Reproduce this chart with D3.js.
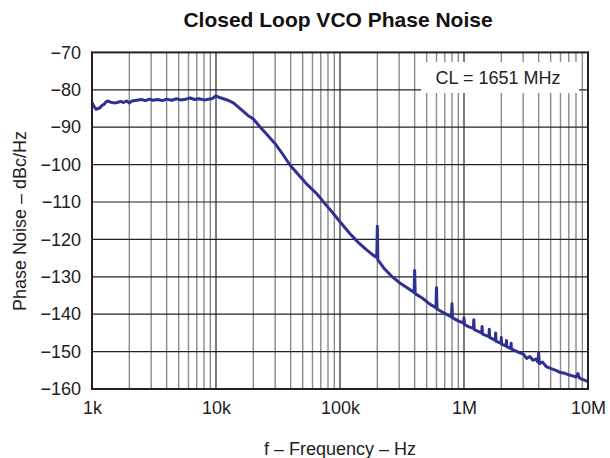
<!DOCTYPE html>
<html>
<head>
<meta charset="utf-8">
<script src="https://cdn.jsdelivr.net/npm/d3@7"></script>
<style>
  html, body { margin: 0; padding: 0; background: #fff; }
  svg { display: block; font-family: 'Liberation Sans', Arial, sans-serif; }
</style>
</head>
<body>
<div id="chart"></div>
<script>
// ── DONNÉES ─────────────────────────────────────────────────────────────
const freqHz = [
  1000, 1040, 1080, 1120, 1160, 1200, 1250, 1300, 1350, 1400, 1500, 1600, 1700, 1800, 1900,
  2000, 2100, 2300, 2500, 2700, 2900, 3100, 3400, 3700, 4000, 4400, 4800, 5200, 5700, 6200,
  6700, 7300, 8000, 8700, 9400, 10000, 10500, 11500, 12500, 13800, 15000, 16600, 18000, 20000,
  22600, 25000, 30000, 35000, 39500, 47600, 55000, 65000, 75000, 88000, 100000, 120000, 140000,
  164000, 185000, 198000, 200000, 202000, 230000, 260000, 300000, 350000, 396000, 400000, 404000,
  466000, 530000, 594000, 600000, 606000, 700000, 792000, 800000, 808000, 900000, 990000,
  1000000, 1010000, 1100000, 1190000, 1200000, 1210000, 1300000, 1390000, 1400000, 1410000,
  1590000, 1600000, 1610000, 1790000, 1800000, 1810000, 1990000, 2000000, 2010000, 2190000,
  2200000, 2210000, 2390000, 2400000, 2410000, 2600000, 2800000, 3000000, 3200000, 3400000,
  3600000, 3800000, 3950000, 4000000, 4050000, 4300000, 4600000, 5000000, 5500000, 6000000,
  6500000, 7000000, 7500000, 8000000, 8300000, 8500000, 9000000, 9500000, 10000000
];
const noiseDbc = [
  -83.4, -84.5, -85.2, -85.0, -84.8, -84.2, -83.9, -83.2, -83.0, -83.3, -83.5, -83.4, -83.1, -83.4, -83.0,
  -83.5, -83.0, -82.8, -82.6, -82.9, -82.5, -82.8, -82.6, -82.9, -82.5, -82.8, -82.4, -82.7, -82.5, -82.2,
  -82.6, -82.4, -82.7, -82.5, -82.3, -81.6, -82.0, -82.4, -82.8, -83.5, -84.5, -85.8, -86.8, -87.8,
  -89.9, -91.5, -94.4, -97.5, -100.1, -103.2, -105.5, -107.8, -110.3, -113.0, -115.3, -118.4, -120.8,
  -122.8, -124.2, -124.8, -116.5, -125.5, -128.0, -129.8, -131.5, -133.0, -134.2, -128.3, -134.5,
  -135.8, -137.3, -138.3, -132.9, -138.6, -139.8, -140.7, -137.2, -141.0, -141.8, -142.4,
  -141.1, -142.8, -143.4, -143.8, -141.5, -144.1, -144.6, -145.0, -143.3, -145.3,
  -146.0, -144.0, -146.2, -147.0, -145.0, -147.2, -147.8, -146.2, -148.0, -148.5,
  -147.0, -148.7, -149.2, -147.8, -149.3, -149.8, -150.3, -150.6, -151.8, -151.3,
  -152.3, -152.0, -152.8, -150.2, -153.2, -152.8, -154.0, -154.5, -155.0, -155.6,
  -155.8, -156.2, -156.5, -156.8, -155.9, -157.0, -157.4, -157.7, -158.0
];
const xTicks = [1e3, 1e4, 1e5, 1e6, 1e7];
const xTickLabels = ['1k', '10k', '100k', '1M', '10M'];
const yTicks = [-70, -80, -90, -100, -110, -120, -130, -140, -150, -160];

// ── GRAPHIQUE ───────────────────────────────────────────────────────────
const W = 610, H = 458;
const M = { left: 92, right: 22, top: 52.4, bottom: 69 };

const svg = d3.select('#chart').append('svg').attr('width', W).attr('height', H);

const x = d3.scaleLog().domain([1e3, 1e7]).range([M.left, W - M.right]);
const y = d3.scaleLinear().domain([-160, -70]).range([H - M.bottom, M.top]);

// Grille verticale : mineures grises, décades noires
const minor = [];
for (let d = 1e3; d < 1e7; d *= 10) for (let k = 2; k <= 9; k++) minor.push(d * k);

svg.append('g').selectAll('line').data(minor).enter().append('line')
  .attr('x1', d => x(d)).attr('x2', d => x(d))
  .attr('y1', y(-70)).attr('y2', y(-160))
  .attr('stroke', '#8a8a8a').attr('stroke-width', 1.4);

svg.append('g').selectAll('line').data(xTicks.slice(1, -1)).enter().append('line')
  .attr('x1', d => x(d)).attr('x2', d => x(d))
  .attr('y1', y(-70)).attr('y2', y(-160))
  .attr('stroke', '#222').attr('stroke-width', 1.2);

svg.append('g').selectAll('line').data(yTicks.slice(1, -1)).enter().append('line')
  .attr('x1', x(1e3)).attr('x2', x(1e7))
  .attr('y1', d => y(d)).attr('y2', d => y(d))
  .attr('stroke', '#222').attr('stroke-width', 1.2);

// Cartouche
svg.append('rect').attr('x', 421).attr('y', 62).attr('width', 158).attr('height', 31).attr('fill', '#fff');
svg.append('text').attr('x', 498).attr('y', 84).attr('text-anchor', 'middle')
  .attr('font-size', '18px').attr('fill', '#222').text('CL = 1651 MHz');

// Courbe
const pts = freqHz.map((f, i) => [f, noiseDbc[i]]);
svg.append('path').datum(pts)
  .attr('d', d3.line().x(d => x(d[0])).y(d => y(d[1])))
  .attr('fill', 'none').attr('stroke', '#2e3192').attr('stroke-width', 3)
  .attr('stroke-linejoin', 'round');

// Cadre
svg.append('rect').attr('x', x(1e3)).attr('y', y(-70))
  .attr('width', x(1e7) - x(1e3)).attr('height', y(-160) - y(-70))
  .attr('fill', 'none').attr('stroke', '#222').attr('stroke-width', 2);

// Axes
const yAxis = svg.append('g').attr('transform', `translate(${M.left},0)`)
  .call(d3.axisLeft(y).tickValues(yTicks).tickSize(0).tickPadding(11));
yAxis.select('.domain').remove();
yAxis.selectAll('text').attr('font-size', '18px').attr('fill', '#222')
  .attr('font-family', 'Liberation Sans, Arial, sans-serif');

const xAxis = svg.append('g').attr('transform', `translate(0,${H - M.bottom})`)
  .call(d3.axisBottom(x).tickValues(xTicks).tickFormat((d, i) => xTickLabels[i]).tickSize(0).tickPadding(12));
xAxis.select('.domain').remove();
xAxis.selectAll('text').attr('font-size', '18px').attr('fill', '#222')
  .attr('font-family', 'Liberation Sans, Arial, sans-serif');

// Titres
svg.append('text').attr('x', 338).attr('y', 27).attr('text-anchor', 'middle')
  .attr('font-size', '21px').attr('font-weight', 'bold').attr('fill', '#111')
  .text('Closed Loop VCO Phase Noise');

svg.append('text').attr('x', 340).attr('y', 455).attr('text-anchor', 'middle')
  .attr('font-size', '18px').attr('fill', '#222').text('f \u2013 Frequency \u2013 Hz');

svg.append('text').attr('transform', `translate(26,221) rotate(-90)`)
  .attr('text-anchor', 'middle').attr('font-size', '18px').attr('fill', '#222')
  .text('Phase Noise \u2013 dBc/Hz');
</script>
</body>
</html>
